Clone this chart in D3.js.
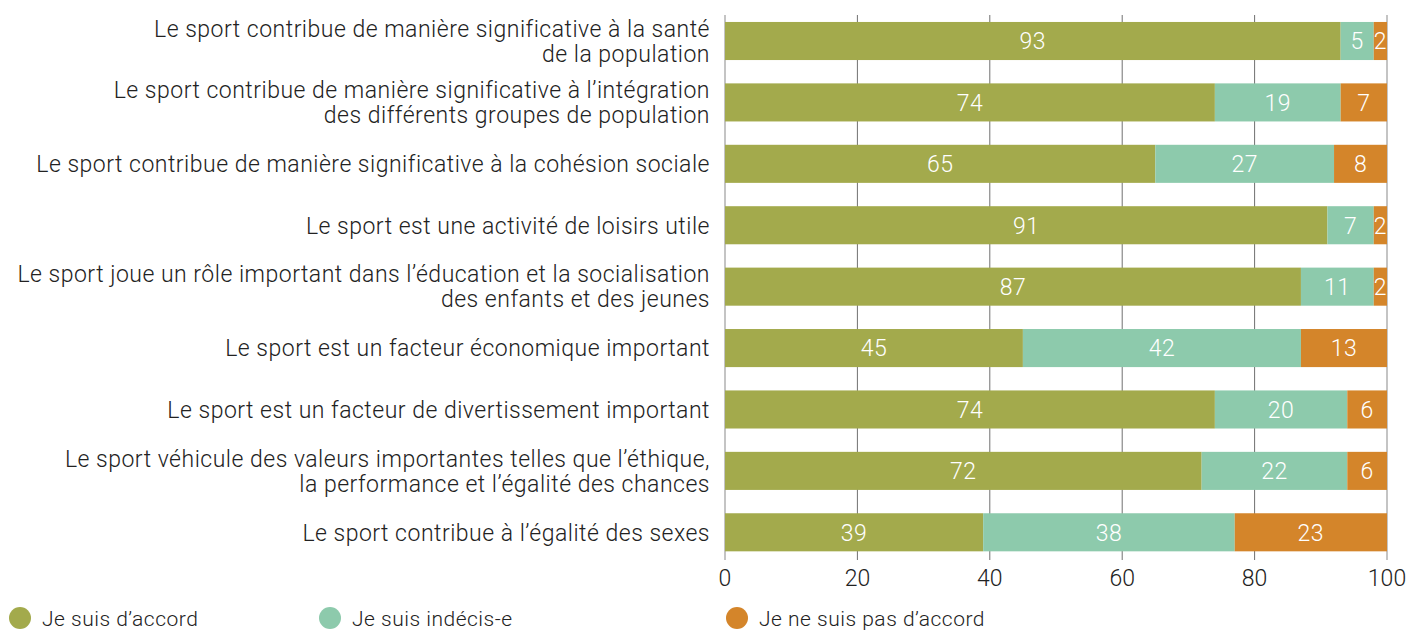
<!DOCTYPE html>
<html>
<head>
<meta charset="utf-8">
<script src="https://cdn.jsdelivr.net/npm/d3@7"></script>
<style>
  body { margin: 0; background: #fff; }
  svg text { font-family: Roboto, "Liberation Sans", sans-serif; font-weight: 300; }
</style>
</head>
<body>
<div id="chart"></div>
<script>
// Data
const categories = [
  ["Le sport contribue de manière significative à la santé", "de la population"],
  ["Le sport contribue de manière significative à l’intégration", "des différents groupes de population"],
  ["Le sport contribue de manière significative à la cohésion sociale"],
  ["Le sport est une activité de loisirs utile"],
  ["Le sport joue un rôle important dans l’éducation et la socialisation", "des enfants et des jeunes"],
  ["Le sport est un facteur économique important"],
  ["Le sport est un facteur de divertissement important"],
  ["Le sport véhicule des valeurs importantes telles que l’éthique,", "la performance et l’égalité des chances"],
  ["Le sport contribue à l’égalité des sexes"]
];
const agree = [93, 74, 65, 91, 87, 45, 74, 72, 39];
const undecided = [5, 19, 27, 7, 11, 42, 20, 22, 38];
const disagree = [2, 7, 8, 2, 2, 13, 6, 6, 23];
const seriesNames = ["Je suis d’accord", "Je suis indécis-e", "Je ne suis pas d’accord"];
const colors = ["#a3aa4c", "#8dcaac", "#d4852a"];
const xTicks = [0, 20, 40, 60, 80, 100];

const W = 1408, H = 630;
const margin = { top: 10, right: 21, bottom: 67, left: 725 };

const svg = d3.select("#chart").append("svg")
  .attr("width", W).attr("height", H);

const x = d3.scaleLinear().domain([0, 100]).range([margin.left, W - margin.right]);
const y = d3.scaleBand()
  .domain(d3.range(categories.length))
  .range([10.3, 563])
  .paddingInner(0.38)
  .paddingOuter(0.19);

const plotTop = 15, plotBottom = 552;

// gridlines
svg.append("g").selectAll("line")
  .data(xTicks)
  .join("line")
  .attr("x1", d => x(d)).attr("x2", d => x(d))
  .attr("y1", plotTop).attr("y2", plotBottom + 8)
  .attr("stroke", d => (d === 0 || d === 100) ? "#b0b0b0" : "#707070")
  .attr("stroke-width", d => (d === 0 || d === 100) ? 1.5 : 1);

// stacked data
const rows = categories.map((c, i) => ({ i, values: [agree[i], undecided[i], disagree[i]] }));
const stack = d3.stack().keys([0, 1, 2]).value((d, k) => d.values[k]);
const stacked = stack(rows);

const layer = svg.append("g").selectAll("g")
  .data(stacked)
  .join("g")
  .attr("fill", (d, k) => colors[k]);

layer.selectAll("rect")
  .data(d => d)
  .join("rect")
  .attr("x", d => x(d[0]))
  .attr("y", d => y(d.data.i))
  .attr("width", d => x(d[1]) - x(d[0]))
  .attr("height", y.bandwidth());

layer.selectAll("text")
  .data(d => d)
  .join("text")
  .attr("x", d => (x(d[0]) + x(d[1])) / 2)
  .attr("y", d => y(d.data.i) + y.bandwidth() / 2)
  .attr("dy", "0.36em")
  .attr("text-anchor", "middle")
  .attr("fill", "#fff")
  .style("font-size", "23px")
  .style("letter-spacing", "0.5px")
  .text(d => d[1] - d[0]);

// category labels
const labels = svg.append("g").selectAll("text")
  .data(categories)
  .join("text")
  .attr("text-anchor", "end")
  .attr("fill", "#222")
  .style("font-size", "23px")
  .style("letter-spacing", "0.5px")
  .attr("transform", (d, i) => `translate(${margin.left - 15},${y(i) + y.bandwidth() / 2})`);

labels.selectAll("tspan")
  .data(d => d.map((t, j) => ({ t, j, n: d.length })))
  .join("tspan")
  .attr("x", 0)
  .attr("y", d => (d.j - (d.n - 1) / 2) * 25)
  .attr("dy", "0.36em")
  .text(d => d.t);

// x axis tick labels
svg.append("g").selectAll("text")
  .data(xTicks)
  .join("text")
  .attr("x", d => x(d))
  .attr("y", 578)
  .attr("dy", "0.36em")
  .attr("text-anchor", "middle")
  .attr("fill", "#222")
  .style("font-size", "23px")
  .text(d => d);

// legend
const legendX = [20, 330, 737];
const legend = svg.append("g").selectAll("g")
  .data(seriesNames)
  .join("g")
  .attr("transform", (d, i) => `translate(${legendX[i]},618)`);

legend.append("circle")
  .attr("r", 11)
  .attr("fill", (d, i) => colors[i]);

legend.append("text")
  .attr("x", 22)
  .attr("dy", "0.36em")
  .attr("fill", "#222")
  .style("font-size", "21px")
  .style("letter-spacing", "0.5px")
  .text(d => d);
</script>
</body>
</html>
